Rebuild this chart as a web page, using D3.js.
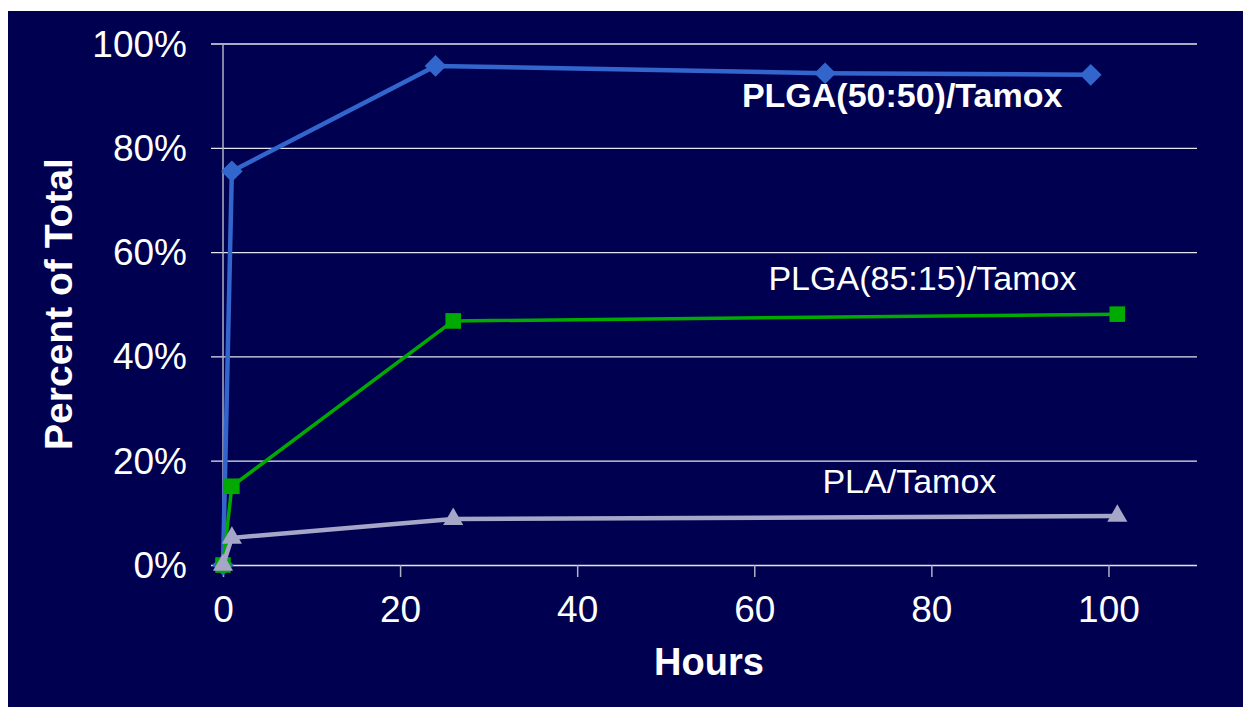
<!DOCTYPE html>
<html lang="en">

<head>
  <meta charset="utf-8">
  <title>Tamoxifen release</title>
  <script src="https://d3js.org/d3.v7.min.js"></script>
  <style>
    body { margin: 0; background: #fff; }
    svg { display: block; font-family: "Liberation Sans", Arial, sans-serif; }
  </style>
</head>

<body>
  <svg width="1243" height="707"></svg>
  <script>
    // values (hours, fraction of total)
    const hours5050 = [0, 1, 24, 68, 98];
    const pct5050 = [0, 0.755, 0.957, 0.943, 0.940];
    const hours8515 = [0, 1, 26, 101];
    const pct8515 = [0, 0.151, 0.468, 0.481];
    const hoursPLA = [0, 1, 26, 101];
    const pctPLA = [0, 0.052, 0.088, 0.094];

    const seriesNames = ["PLGA(50:50)/Tamox", "PLGA(85:15)/Tamox", "PLA/Tamox"];
    const xTicks = [0, 20, 40, 60, 80, 100];
    const yTicks = [0, 0.2, 0.4, 0.6, 0.8, 1.0];
    // label anchors in data units (hours, fraction)
    const labelX = [58.6, 61.6, 67.7];
    const labelY = [0.878, 0.527, 0.139];

    const svg = d3.select("svg");
    const width = 1243, height = 707;

    svg.append("rect")
      .attr("x", 8).attr("y", 11)
      .attr("width", width - 8).attr("height", height - 11)
      .attr("fill", "#000050");

    const x = d3.scaleLinear().domain([0, 110]).range([223, 1197]);
    const y = d3.scaleLinear().domain([0, 1]).range([565, 43.5]);

    // horizontal grid + tick stubs left of the axis
    const yAxis = d3.axisLeft(y)
      .tickValues(yTicks)
      .tickSize(-(1197 - 211))
      .tickPadding(24)
      .tickFormat(d3.format(".0%"));
    const gy = svg.append("g").attr("transform", "translate(211,0)").call(yAxis);
    gy.select(".domain").remove();
    gy.selectAll(".tick line").attr("stroke", "#e4e4ee").attr("stroke-width", 1.3);
    gy.selectAll(".tick text")
      .attr("fill", "#fff")
      .attr("font-size", 37)
      .attr("font-family", "Liberation Sans, Arial, sans-serif")
      .attr("x", -24)
      .attr("dy", "0.34em");

    // vertical axis line
    svg.append("line")
      .attr("x1", x(0)).attr("x2", x(0))
      .attr("y1", y(1)).attr("y2", y(0))
      .attr("stroke", "#b0b0c4").attr("stroke-width", 1.5);

    const xAxis = d3.axisBottom(x)
      .tickValues(xTicks)
      .tickSize(12)
      .tickPadding(19)
      .tickFormat(d3.format("d"));
    const gx = svg.append("g").attr("transform", `translate(0,${y(0)})`).call(xAxis);
    gx.select(".domain").remove();
    gx.selectAll(".tick line").attr("stroke", "#b0b0c4").attr("stroke-width", 1.5);
    gx.selectAll(".tick text")
      .attr("fill", "#fff")
      .attr("font-size", 37)
      .attr("font-family", "Liberation Sans, Arial, sans-serif");

    const line = d3.line().x(d => x(d[0])).y(d => y(d[1]));

    const series = [
      { name: seriesNames[0], data: d3.zip(hours5050, pct5050), color: "#3366cc", width: 4.5, symbol: d3.symbolDiamond2, size: 300, bold: true },
      { name: seriesNames[1], data: d3.zip(hours8515, pct8515), color: "#00aa00", width: 3.5, symbol: d3.symbolSquare2, size: 310, bold: false },
      { name: seriesNames[2], data: d3.zip(hoursPLA, pctPLA), color: "#a6a6c8", width: 4.5, symbol: d3.symbolTriangle2, size: 290, bold: false }
    ];

    series.forEach((s, i) => {
      svg.append("path")
        .attr("d", line(s.data))
        .attr("fill", "none")
        .attr("stroke", s.color)
        .attr("stroke-width", s.width)
        .attr("stroke-linejoin", "round");

      svg.selectAll(null)
        .data(s.data)
        .enter()
        .append("path")
        .attr("transform", d => `translate(${x(d[0])},${y(d[1])})`)
        .attr("d", d3.symbol().type(s.symbol).size(s.size))
        .attr("fill", s.color)
        .attr("stroke", "none");

      svg.append("text")
        .attr("x", x(labelX[i]))
        .attr("y", y(labelY[i]))
        .attr("fill", "#fff")
        .attr("font-size", 34)
        .attr("font-weight", s.bold ? "bold" : "normal")
        .text(s.name);
    });

    svg.append("text")
      .attr("x", 709)
      .attr("y", 675)
      .attr("text-anchor", "middle")
      .attr("fill", "#fff")
      .attr("font-size", 38)
      .attr("font-weight", "bold")
      .text("Hours");

    svg.append("text")
      .attr("transform", "translate(72,304) rotate(-90)")
      .attr("text-anchor", "middle")
      .attr("fill", "#fff")
      .attr("font-size", 39)
      .attr("font-weight", "bold")
      .text("Percent of Total");
  </script>
</body>

</html>
